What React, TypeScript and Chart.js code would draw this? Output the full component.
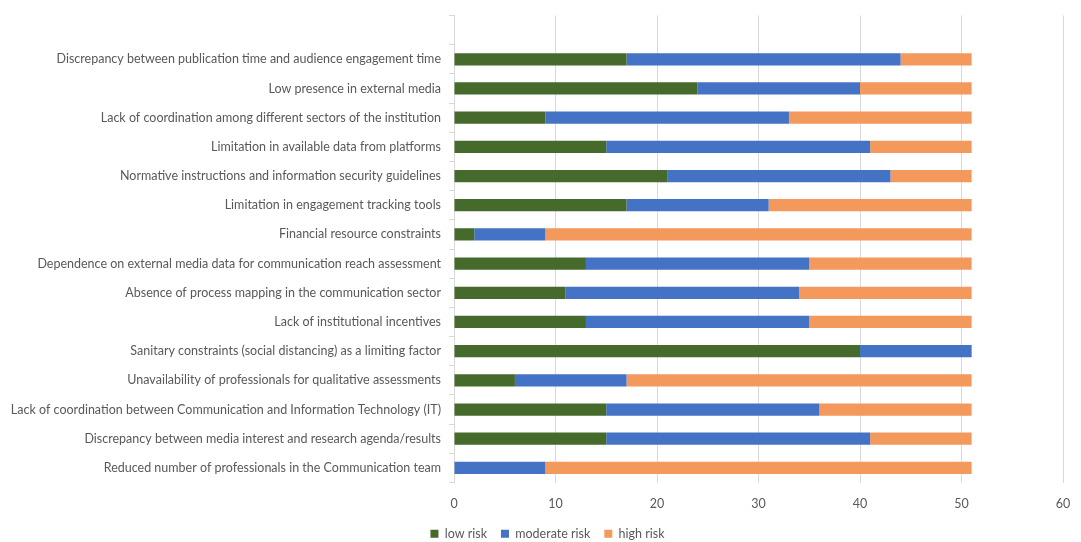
import React, { useEffect, useRef } from "react";
import { Chart, registerables } from "chart.js";

Chart.register(...registerables);

const categories = [
  "",
  "Discrepancy between publication time and audience engagement time",
  "Low presence in external media",
  "Lack of coordination among different sectors of the institution",
  "Limitation in available data from platforms",
  "Normative instructions and information security guidelines",
  "Limitation in engagement tracking tools",
  "Financial resource constraints",
  "Dependence on external media data for communication reach assessment",
  "Absence of process mapping in the communication sector",
  "Lack of institutional incentives",
  "Sanitary constraints (social distancing) as a limiting factor",
  "Unavailability of professionals for qualitative assessments",
  "Lack of coordination between Communication and Information Technology (IT)",
  "Discrepancy between media interest and research agenda/results",
  "Reduced number of professionals in the Communication team",
];

const lowRisk = [null, 17, 24, 9, 15, 21, 17, 2, 13, 11, 13, 40, 6, 15, 15, 0];
const moderateRisk = [null, 27, 16, 24, 26, 22, 14, 7, 22, 23, 22, 11, 11, 21, 26, 9];
const highRisk = [null, 7, 11, 18, 10, 8, 20, 42, 16, 17, 16, 0, 34, 15, 10, 42];

const xTicks = [0, 10, 20, 30, 40, 50, 60];

const legendShift = {
  id: "legendShift",
  afterLayout(chart: any) {
    const lg = chart.legend;
    if (lg) {
      lg.left += 16;
      lg.right += 16;
    }
  },
};

export default function App() {
  const ref = useRef<HTMLCanvasElement>(null);
  useEffect(() => {
    if (!ref.current) return;
    const font = { family: "Lato, 'Open Sans', sans-serif", size: 12.5 };
    const chart = new Chart(ref.current, {
      type: "bar",
      data: {
        labels: categories,
        datasets: [
          { label: "low risk", data: lowRisk, backgroundColor: "#456A2C" },
          { label: "moderate risk", data: moderateRisk, backgroundColor: "#4472C4" },
          { label: "high risk", data: highRisk, backgroundColor: "#F3995C" },
        ] as any,
      },
      plugins: [legendShift],
      options: {
        indexAxis: "y",
        animation: false,
        responsive: true,
        maintainAspectRatio: false,
        layout: { padding: { top: 13, right: 18, left: 0, bottom: 0 } },
        datasets: { bar: { barPercentage: 0.42, categoryPercentage: 1 } },
        plugins: {
          legend: {
            position: "bottom",
            labels: {
              boxWidth: 8,
              boxHeight: 8,
              font,
              color: "#595959",
              padding: 14,
            },
          },
          tooltip: { enabled: false },
        },
        scales: {
          x: {
            stacked: true,
            min: 0,
            max: 60,
            afterBuildTicks: (scale: any) => {
              scale.ticks = xTicks.map((v) => ({ value: v }));
            },
            afterFit: (scale: any) => {
              scale.height = 31;
              scale.paddingLeft = 0;
              scale.paddingRight = 0;
            },
            ticks: { font, color: "#595959", padding: 14 },
            grid: { color: "#D9D9D9", drawTicks: false },
            border: { display: false },
          },
          y: {
            stacked: true,
            afterFit: (scale: any) => {
              scale.width = 454;
            },
            ticks: { font, color: "#595959", padding: 8, autoSkip: false },
            grid: {
              offset: true,
              drawOnChartArea: false,
              drawTicks: true,
              tickLength: 5,
              color: "#D9D9D9",
            },
            border: { display: true, color: "#D9D9D9" },
          },
        },
      } as any,
    });
    return () => chart.destroy();
  }, []);
  return (
    <div style={{ position: "fixed", left: 0, top: 0, width: 1081, height: 550, background: "#fff" }}>
      <canvas ref={ref} />
    </div>
  );
}
